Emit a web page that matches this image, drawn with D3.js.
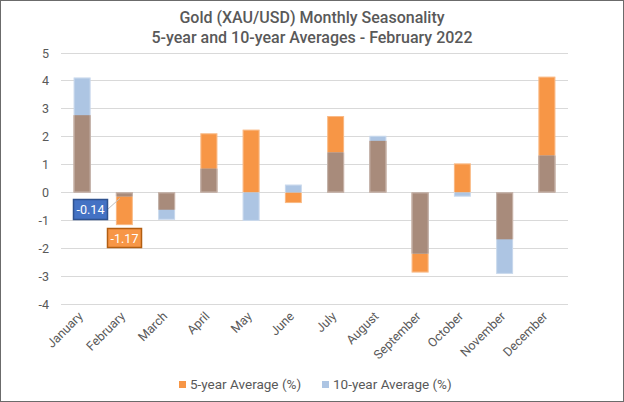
<!DOCTYPE html>
<html><head><meta charset="utf-8">
<script src="https://cdn.jsdelivr.net/npm/d3@7"></script>
<style>body{margin:0;background:#fff}svg{display:block;font-family:Roboto,"Open Sans",sans-serif}</style>
</head><body>
<svg id="c" width="624" height="402"></svg>
<script>
const months = ["January","February","March","April","May","June","July","August","September","October","November","December"];
const avg5 = [2.77,-1.17,-0.62,2.12,2.25,-0.38,2.74,1.85,-2.87,1.04,-1.68,4.15];
const avg10 = [4.12,-0.14,-0.98,0.85,-1.02,0.28,1.43,2.03,-2.19,-0.15,-2.92,1.32];
const yTicks = [5,4,3,2,1,0,-1,-2,-3,-4];
const titleLines = ["Gold (XAU/USD) Monthly Seasonality","5-year and 10-year Averages - February 2022"];
const seriesNames = ["5-year Average (%)","10-year Average (%)"];
const labelled = [{m:"February", s:10, v:-0.14},{m:"February", s:5, v:-1.17}];

const C5 = "#F79646", C10 = "#ADC5E3", CBOTH = "#A88B7B";
const svg = d3.select("#c");
svg.append("rect").attr("x",0.5).attr("y",0.5).attr("width",623).attr("height",401)
  .attr("fill","#fff").attr("stroke","#6b6b6b").attr("stroke-width",1);

const x = d3.scaleBand().domain(months).range([61,568]).paddingInner(0.6).paddingOuter(0.3);
const y = d3.scaleLinear().domain([-4,5]).range([304,53]);

// title
svg.append("g").selectAll("text").data(titleLines).join("text")
  .attr("x",312).attr("y",(d,i)=>23+i*19.5).attr("text-anchor","middle")
  .attr("font-size",16).attr("font-weight",500).attr("fill","#595959").text(d=>d);

// grid
svg.append("g").selectAll("line").data(yTicks).join("line")
  .attr("x1",61).attr("x2",568).attr("y1",d=>y(d)).attr("y2",d=>y(d))
  .attr("stroke","#d9d9d9").attr("stroke-width",1).attr("shape-rendering","crispEdges");
svg.append("g").selectAll("text").data(yTicks).join("text")
  .attr("x",49).attr("y",d=>y(d)+4.5).attr("text-anchor","end")
  .attr("font-size",12.5).attr("fill","#595959").text(d=>d);

const data = months.map((m,i)=>({m, a:avg5[i], b:avg10[i]}));
const bw = x.bandwidth();
function rect(g, lo, hi, m, color){
  g.append("rect").attr("x",x(m)).attr("width",bw)
   .attr("y",y(hi)).attr("height",Math.max(0,y(lo)-y(hi))).attr("fill",color);
}
const bars = svg.append("g");
data.forEach(d=>{
  rect(bars, Math.min(0,d.a), Math.max(0,d.a), d.m, C5);
  rect(bars, Math.min(0,d.b), Math.max(0,d.b), d.m, C10);
  if (d.a*d.b>0){
    const o = d.a>0 ? Math.min(d.a,d.b) : Math.max(d.a,d.b);
    rect(bars, Math.min(0,o), Math.max(0,o), d.m, CBOTH);
  }
});
data.forEach(d=>{
  const ext = [d.a,d.b,0];
  const lo = d3.min(ext), hi = d3.max(ext);
  bars.append("rect").attr("x",x(d.m)+0.5).attr("width",bw-1)
   .attr("y",y(hi)+0.5).attr("height",y(lo)-y(hi)-1)
   .attr("fill","none").attr("stroke","#fff").attr("stroke-opacity",0.35);
});

// x labels
svg.append("g").selectAll("text").data(months).join("text")
  .attr("transform",d=>`translate(${x(d)+bw/2+1.5},${317}) rotate(-45)`)
  .attr("text-anchor","end").attr("font-size",12.5).attr("fill","#595959").text(d=>d);

// data labels
const lab = svg.append("g");
const l1 = labelled[0], l2 = labelled[1];
const bx = x(l1.m);
lab.append("line").attr("x1",108).attr("y1",209).attr("x2",bx+4).attr("y2",y(l1.v)+2)
  .attr("stroke","#bfbfbf").attr("stroke-width",1);
lab.append("rect").attr("x",73.5).attr("y",199.5).attr("width",34).attr("height",20)
  .attr("fill","#4472C4").attr("stroke","#2F528F").attr("stroke-width",1.5);
lab.append("text").attr("x",90.5).attr("y",214).attr("text-anchor","middle")
  .attr("font-size",12.5).attr("fill","#fff").text(l1.v.toFixed(2));
lab.append("rect").attr("x",107.5).attr("y",228.5).attr("width",34).attr("height",19)
  .attr("fill","#F79646").attr("stroke","#B25E12").attr("stroke-width",1.5);
lab.append("text").attr("x",124.5).attr("y",242.5).attr("text-anchor","middle")
  .attr("font-size",12.5).attr("fill","#fff").text(l2.v.toFixed(2));

// legend
const leg = svg.append("g");
const lx = [179, 322];
[C5,C10].forEach((c,i)=>{
  leg.append("rect").attr("x",lx[i]).attr("y",381).attr("width",7).attr("height",7).attr("fill",c);
  leg.append("text").attr("x",lx[i]+11).attr("y",389).attr("font-size",13.5)
    .attr("fill","#595959").text(seriesNames[i]);
});
</script>
</body></html>
